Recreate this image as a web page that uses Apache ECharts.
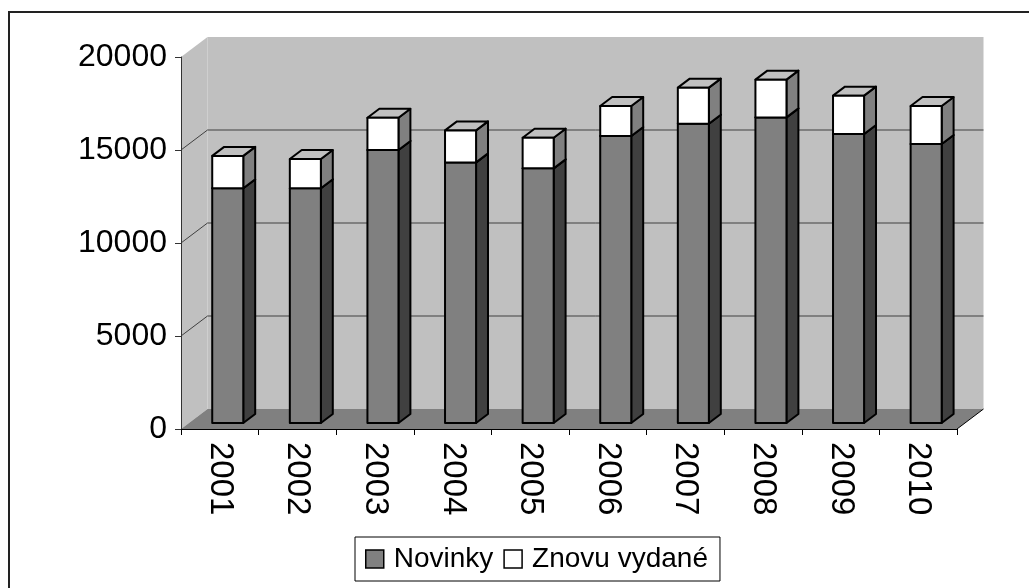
<!DOCTYPE html>
<html>
<head>
<meta charset="utf-8">
<script src="https://cdn.jsdelivr.net/npm/echarts@6/dist/echarts.min.js"></script>
<style>
  html, body { margin: 0; padding: 0; background: #fff; }
  #chart { width: 1029px; height: 588px; }
</style>
</head>
<body>
<div id="chart"></div>
<script>
// data
const years = ['2001', '2002', '2003', '2004', '2005', '2006', '2007', '2008', '2009', '2010'];
const novinky = [12620, 12620, 14680, 14010, 13690, 15430, 16090, 16430, 15540, 15000];
const znovu = [1740, 1570, 1730, 1720, 1650, 1610, 1940, 2030, 2060, 2040];
const gridValues = [5000, 10000, 15000];

const chart = echarts.init(document.getElementById('chart'));

// fake 3d: depth vector of the plot box in pixels
const DX = 26.5, DY = -20;
const FRONT = 0.3, DEPTH = 0.45;
const FONT = 'Liberation Sans, Arial, sans-serif';

function frameItem(params, api) {
  const cs = params.coordSys;
  const x0 = cs.x, x1 = cs.x + cs.width;
  const y0 = api.coord([0, 0])[1];
  const yTop = api.coord([0, 20000])[1];
  const children = [
    { type: 'polygon', shape: { points: [[x0, y0], [x0, yTop], [x0 + DX, yTop + DY], [x0 + DX, y0 + DY]] },
      style: { fill: '#c0c0c0' } },
    { type: 'rect', shape: { x: x0 + DX, y: yTop + DY, width: x1 - x0, height: y0 - yTop },
      style: { fill: '#c0c0c0' } },
    { type: 'polygon', shape: { points: [[x0, y0], [x1, y0], [x1 + DX, y0 + DY], [x0 + DX, y0 + DY]] },
      style: { fill: '#808080' } },
    { type: 'line', shape: { x1: x1, y1: y0, x2: x1 + DX, y2: y0 + DY },
      style: { stroke: '#000', lineWidth: 1 } }
  ];
  gridValues.forEach(v => {
    const y = api.coord([0, v])[1];
    children.push({
      type: 'polyline',
      shape: { points: [[x0, y], [x0 + DX, y + DY], [x1 + DX, y + DY]] },
      style: { stroke: '#404040', lineWidth: 1, fill: null }
    });
  });
  return { type: 'group', children: children };
}

function barItem(colors) {
  return function (params, api) {
    const idx = api.value(0);
    const p0 = api.coord([idx, api.value(1)]);
    const p1 = api.coord([idx, api.value(2)]);
    const w = api.size([1, 0])[0] * 0.4;
    const ox = DX * FRONT, oy = DY * FRONT;
    const bx = DX * DEPTH, by = DY * DEPTH;
    const fl = p0[0] - w / 2 + ox, fr = fl + w;
    const yb = p0[1] + oy, yt = p1[1] + oy;
    const line = { stroke: '#000', lineWidth: 2, lineJoin: 'round' };
    return {
      type: 'group',
      children: [
        { type: 'polygon', shape: { points: [[fr, yb], [fr, yt], [fr + bx, yt + by], [fr + bx, yb + by]] },
          style: Object.assign({ fill: colors.side }, line) },
        { type: 'polygon', shape: { points: [[fl, yt], [fr, yt], [fr + bx, yt + by], [fl + bx, yt + by]] },
          style: Object.assign({ fill: colors.top }, line) },
        { type: 'rect', shape: { x: fl, y: yt, width: w, height: yb - yt },
          style: Object.assign({ fill: colors.front }, line) }
      ]
    };
  };
}

const novinkyData = years.map((y, i) => [i, 0, novinky[i]]);
const znovuData = years.map((y, i) => [i, novinky[i], novinky[i] + znovu[i]]);

const option = {
  animation: false,
  textStyle: { fontFamily: FONT },
  graphic: [{
    type: 'rect', z: 0,
    shape: { x: 9, y: 12, width: 1100, height: 700 },
    style: { fill: null, stroke: '#222', lineWidth: 2 }
  }],
  grid: {
    left: 181, right: 72, top: 57, bottom: 159,
    outerBoundsMode: 'none'
  },
  legend: {
    data: ['Novinky', 'Znovu vydané'],
    left: 355, top: 537,
    icon: 'rect',
    itemWidth: 18, itemHeight: 18, itemGap: 10,
    padding: [8, 12, 8, 10],
    borderColor: '#000', borderWidth: 1,
    itemStyle: { borderColor: '#000', borderWidth: 1.5 },
    textStyle: { fontSize: 28, color: '#000', fontFamily: FONT, padding: [0, 0, 0, 5] }
  },
  xAxis: {
    type: 'category',
    data: years,
    z: 5,
    axisLine: { lineStyle: { color: '#000', width: 1 } },
    axisTick: { show: true, length: 6, lineStyle: { color: '#000' } },
    axisLabel: { rotate: -90, fontSize: 33, color: '#000', margin: 13, fontFamily: FONT }
  },
  yAxis: {
    type: 'value',
    min: 0, max: 20000, interval: 5000,
    z: 5,
    axisLine: { show: true, lineStyle: { color: '#333', width: 1 } },
    axisTick: { show: true, length: 6, lineStyle: { color: '#333' } },
    axisLabel: { fontSize: 32, color: '#000', margin: 14, fontFamily: FONT,
      formatter: v => String(v) },
    splitLine: { show: false }
  },
  series: [
    {
      name: 'frame', type: 'custom', silent: true, z: 1, clip: false,
      data: [[0, 0]],
      renderItem: frameItem
    },
    {
      name: 'Novinky', type: 'custom', z: 2, clip: false,
      itemStyle: { color: '#808080' },
      encode: { x: 0, y: 2 },
      data: novinkyData,
      renderItem: barItem({ front: '#808080', side: '#404040', top: '#808080' })
    },
    {
      name: 'Znovu vydané', type: 'custom', z: 3, clip: false,
      itemStyle: { color: '#ffffff' },
      encode: { x: 0, y: 2 },
      data: znovuData,
      renderItem: barItem({ front: '#ffffff', side: '#808080', top: '#c0c0c0' })
    }
  ]
};

chart.setOption(option);
</script>
</body>
</html>
